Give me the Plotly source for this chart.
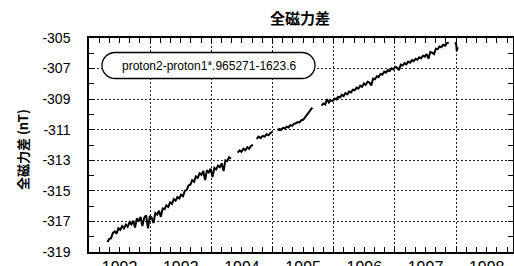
import numpy as np
import plotly.graph_objects as go

# ---------------- data ----------------
# segment boundaries (decimal years) and hand-read values (nT)
seg_a_range = (1991.80, 1993.82)
seg_a_vals = [-318.35, -318.15, -318.10, -317.75, -317.65, -317.80, -317.45, -317.55, -317.30, -317.45,
              -317.20, -317.35, -317.05, -317.20, -316.95, -317.40, -316.80, -317.00, -316.70, -317.30,
              -316.75, -316.60, -317.45, -316.65, -316.75, -317.10, -316.45, -316.55, -316.30, -316.70,
              -316.15, -316.20, -315.95, -316.05, -315.75, -315.85, -315.55, -315.65, -315.40, -315.50,
              -315.25, -315.35, -315.00, -314.95, -314.65, -314.60, -314.30, -314.40, -314.05, -314.15,
              -313.85, -313.95, -313.70, -314.30, -313.65, -313.80, -313.55, -314.10, -313.50, -313.60,
              -313.35, -313.45, -313.20, -313.70, -313.00, -313.05, -312.80, -312.90]

seg_b_range = (1993.93, 1994.18)
seg_b_vals = [-312.50, -312.35, -312.45, -312.25, -312.35, -312.15, -312.25, -312.05, -312.00]

seg_c_range = (1994.24, 1994.50)
seg_c_vals = [-311.60, -311.45, -311.55, -311.40, -311.45, -311.30, -311.35, -311.20, -311.15]

seg_d_range = (1994.58, 1995.15)
seg_d_vals = [-311.02, -310.95, -311.00, -310.88, -310.92, -310.80, -310.85, -310.70, -310.75, -310.62,
              -310.58, -310.50, -310.52, -310.38, -310.35, -310.20, -310.05, -309.90, -309.70, -309.55]

seg_e_range = (1995.30, 1997.38)
seg_e_vals = [-309.42, -309.28, -309.35, -309.00, -309.22, -309.08, -309.12, -308.96, -309.02, -308.85,
              -308.90, -308.72, -308.80, -308.60, -308.68, -308.50, -308.56, -308.38, -308.42, -308.25,
              -308.32, -308.12, -308.20, -307.98, -308.06, -307.86, -307.92, -308.10, -307.65, -307.70,
              -307.50, -307.55, -307.35, -307.40, -307.20, -307.27, -307.10, -307.16, -306.98, -307.05,
              -306.88, -306.95, -307.10, -306.74, -306.80, -306.64, -306.72, -306.55, -306.62, -306.45,
              -306.52, -306.36, -306.42, -306.26, -306.33, -306.16, -306.22, -306.06, -306.35, -305.92,
              -305.96, -306.05, -305.70, -305.73, -305.55, -305.60, -305.44, -305.50, -305.34, -305.30]

seg_f_range = (1997.485, 1997.525)
seg_f_vals = [-305.40, -305.30, -305.85, -305.60]

year_labels = ["1992", "1993", "1994", "1995", "1996", "1997", "1998"]
y_ticks = [-305, -307, -309, -311, -313, -315, -317, -319]

title_text = "全磁力差"
ytitle_text = "全磁力差 (nT)"
formula_text = "proton2-proton1*.965271-1623.6"

# ---------------- build series ----------------
segments = [(seg_a_range, seg_a_vals), (seg_b_range, seg_b_vals), (seg_c_range, seg_c_vals),
            (seg_d_range, seg_d_vals), (seg_e_range, seg_e_vals), (seg_f_range, seg_f_vals)]
xs, ys = [], []
for (a, b), vals in segments:
    xs.extend(np.linspace(a, b, len(vals)).tolist())
    ys.extend(vals)
    xs.append(None)
    ys.append(None)

fig = go.Figure()
fig.add_trace(go.Scatter(x=xs, y=ys, mode="lines", line=dict(color="black", width=2),
                         connectgaps=False, showlegend=False, hoverinfo="skip"))
fig.add_trace(go.Scatter(x=[], y=[], xaxis="x2", showlegend=False))

XR = [1991.50, 1998.43]
W, H = 514, 266
L, R, T, B = 89, 1, 38, 14
pw, ph = W - L - R, H - T - B

fig.update_layout(
    width=W, height=H,
    margin=dict(l=L, r=R, t=T, b=B, autoexpand=False),
    paper_bgcolor="white", plot_bgcolor="white",
    font=dict(family="Liberation Sans, Arial, sans-serif", size=14, color="black"),
    xaxis=dict(range=XR, tickvals=[int(v) for v in year_labels], ticktext=year_labels,
               ticks="inside", ticklen=5, tickcolor="black", tickwidth=1,
               minor=dict(dtick=1/6, tick0=1992, ticks="inside", ticklen=5, tickcolor="black", showgrid=False),
               showgrid=False, zeroline=False, showline=True, linecolor="black", linewidth=1.5,
               mirror="ticks", tickfont=dict(size=16), ticklabelstandoff=0, automargin=False),
    xaxis2=dict(range=XR, overlaying="x", anchor="y", tickvals=[int(v) + 0.5 for v in year_labels[:-1]],
                showticklabels=False, ticks="", showgrid=True, gridcolor="#222", griddash="2px,2px",
                gridwidth=1, zeroline=False, showline=False, automargin=False),
    yaxis=dict(range=[-319, -305], tickvals=y_ticks, ticktext=[str(v) for v in y_ticks],
               ticks="inside", ticklen=5, tickcolor="black",
               minor=dict(dtick=2, tick0=-306, ticks="inside", ticklen=5, tickcolor="black", showgrid=False),
               showgrid=True, gridcolor="#222", griddash="2px,2px", gridwidth=1,
               zeroline=False, showline=True, linecolor="black", linewidth=1.5, mirror="ticks",
               ticklabelstandoff=14, tickfont=dict(size=14), automargin=False),
)

# title
fig.add_annotation(text=f"<b>{title_text}</b>", xref="paper", yref="paper", x=(300 - L) / pw,
                   y=(H - B - 18) / ph, xanchor="center", yanchor="middle", showarrow=False,
                   font=dict(family="Noto Sans CJK JP", size=15, color="black"))
# y-axis title
fig.add_annotation(text=f"<b>{ytitle_text}</b>", xref="paper", yref="paper", x=(22 - L) / pw,
                   y=(H - B - 150) / ph, xanchor="center", yanchor="middle", textangle=-90,
                   showarrow=False, font=dict(family="Noto Sans CJK JP", size=13, color="black"))

# rounded box around formula (pixel geometry -> paper coords)
def P(px, py):
    return f"{(px - L) / pw:.5f},{(H - B - py) / ph:.5f}"

x0, x1, y0, y1 = 102, 315, 52.5, 78.5
r = (y1 - y0) / 2
k = 0.5523 * r
yc = (y0 + y1) / 2
path = (f"M{P(x0 + r, y0)} L{P(x1 - r, y0)} "
        f"C{P(x1 - r + k, y0)} {P(x1, yc - k)} {P(x1, yc)} "
        f"C{P(x1, yc + k)} {P(x1 - r + k, y1)} {P(x1 - r, y1)} "
        f"L{P(x0 + r, y1)} "
        f"C{P(x0 + r - k, y1)} {P(x0, yc + k)} {P(x0, yc)} "
        f"C{P(x0, yc - k)} {P(x0 + r - k, y0)} {P(x0 + r, y0)} Z")
fig.add_shape(type="path", path=path, xref="paper", yref="paper",
              line=dict(color="black", width=1.3), fillcolor="white", layer="above")
fig.add_annotation(text=formula_text, xref="paper", yref="paper", x=((x0 + x1) / 2 - L) / pw,
                   y=(H - B - yc) / ph, xanchor="center", yanchor="middle", showarrow=False,
                   font=dict(family="Liberation Sans, Arial", size=12, color="black"))

fig.write_html("out.html", config={"displayModeBar": False},
               post_script="document.body.style.margin='0';document.body.style.overflow='hidden';")
